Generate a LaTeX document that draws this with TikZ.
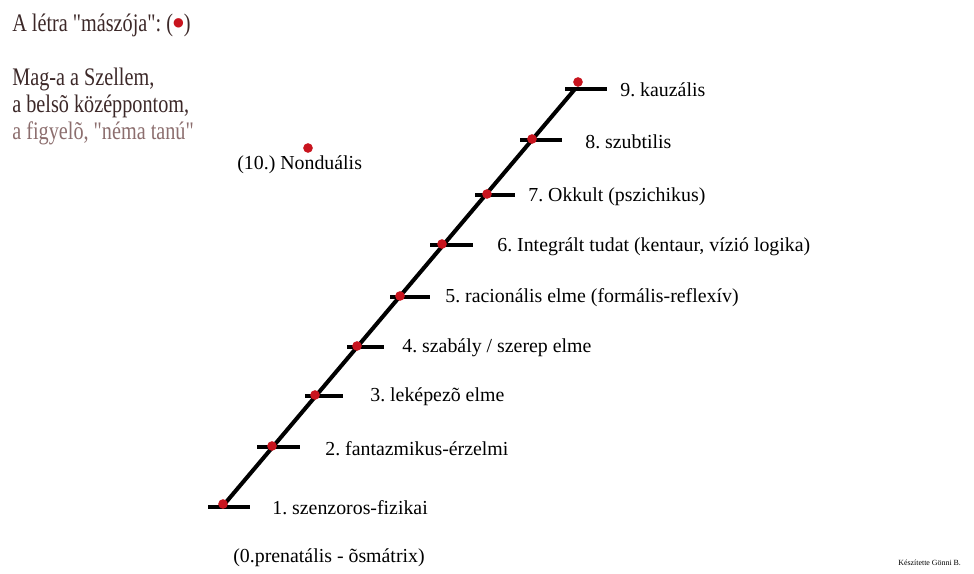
\documentclass[tikz,border=0pt]{standalone}
\usepackage{fontspec}
\setmainfont{Liberation Serif}[Ligatures=TeXOff]
\newfontfamily\symfont{DejaVu Sans}
\usepackage{graphicx}
\usepackage{tikz}
\frenchspacing

\definecolor{spotred}{RGB}{200,20,30}
\definecolor{inkbrown}{RGB}{60,40,40}
\definecolor{fadebrown}{RGB}{140,110,110}
\newcommand{\tallnote}[1]{\scalebox{1}[1.25]{#1}}

\begin{document}
\begin{tikzpicture}[
  x=0.02cm, y=-0.02cm,
  rail/.style={line width=2.3pt, black},
  rung/.style={line width=2.3pt, black},
  spot/.style={circle, fill=spotred, inner sep=0pt, minimum size=5.5pt},
  level/.style={anchor=west, inner sep=0pt, font=\fontsize{11.3}{13}\selectfont},
  note/.style={anchor=west, inner sep=0pt, font=\fontsize{11.5}{13}\selectfont, text=inkbrown}
]
  \useasboundingbox (0,0) rectangle (974,574);

  % Rung ends
  \coordinate (r1a) at (208,507); \coordinate (r1b) at (250,507);
  \coordinate (r2a) at (257,447); \coordinate (r2b) at (300,447);
  \coordinate (r3a) at (305,396); \coordinate (r3b) at (343,396);
  \coordinate (r4a) at (347,347); \coordinate (r4b) at (384,347);
  \coordinate (r5a) at (390,297); \coordinate (r5b) at (430,297);
  \coordinate (r6a) at (430,245); \coordinate (r6b) at (473,245);
  \coordinate (r7a) at (475,195); \coordinate (r7b) at (515,195);
  \coordinate (r8a) at (520,140); \coordinate (r8b) at (562,140);
  \coordinate (r9a) at (565,89);  \coordinate (r9b) at (607,89);

  % Rail ends
  \coordinate (foot) at (222,507);
  \coordinate (head) at (575,89);

  % Rail and rungs
  \draw[rail] (foot) -- (head);
  \draw[rung] (r1a) -- (r1b);
  \draw[rung] (r2a) -- (r2b);
  \draw[rung] (r3a) -- (r3b);
  \draw[rung] (r4a) -- (r4b);
  \draw[rung] (r5a) -- (r5b);
  \draw[rung] (r6a) -- (r6b);
  \draw[rung] (r7a) -- (r7b);
  \draw[rung] (r8a) -- (r8b);
  \draw[rung] (r9a) -- (r9b);

  % Climber spots
  \node[spot] (d1) at (223,504) {};
  \node[spot] (d2) at (272,446) {};
  \node[spot] (d3) at (315,395) {};
  \node[spot] (d4) at (357,346) {};
  \node[spot] (d5) at (400,296) {};
  \node[spot] (d6) at (442,244) {};
  \node[spot] (d7) at (487,194) {};
  \node[spot] (d8) at (532,139) {};
  \node[spot] (d9) at (578,82) {};
  \node[spot] (d10) at (308,148) {};

  % Level labels
  \node[level] (l0) at (233,558) {(0.prenatális - õsmátrix)};
  \node[level] (l1) at (272,508) {1. szenzoros-fizikai};
  \node[level] (l2) at (325,449) {2. fantazmikus-érzelmi};
  \node[level] (l3) at (370,397) {3. leképezõ elme};
  \node[level] (l4) at (402,348) {4. szabály / szerep elme};
  \node[level] (l5) at (445,298) {5. racionális elme (formális-reflexív)};
  \node[level] (l6) at (497,247) {6. Integrált tudat (kentaur, vízió logika)};
  \node[level] (l7) at (528,197) {7. Okkult (pszichikus)};
  \node[level] (l8) at (585,142) {8. szubtilis};
  \node[level] (l9) at (620,90) {9. kauzális};
  \node[level] (l10) at (237,165) {(10.) Nonduális};

  % Notes, top left
  \node[note] (n1) at (12,25) {\tallnote{A létra "mászója": (}\raisebox{0.45ex}{\symfont\fontsize{7}{7}\selectfont\color{spotred}●}\tallnote{)}};
  \node[note] (n2) at (12,79) {\tallnote{Mag-a a Szellem,}};
  \node[note] (n3) at (12,106) {\tallnote{a belsõ középpontom,}};
  \node[note, text=fadebrown] (n4) at (12,133) {\tallnote{a figyelõ, "néma tanú"}};

  % Signature
  \node[anchor=west, inner sep=0pt, font=\fontsize{4.5}{5}\selectfont] (sig) at (898,563) {Készítette Gönni B.};
\end{tikzpicture}
\end{document}
